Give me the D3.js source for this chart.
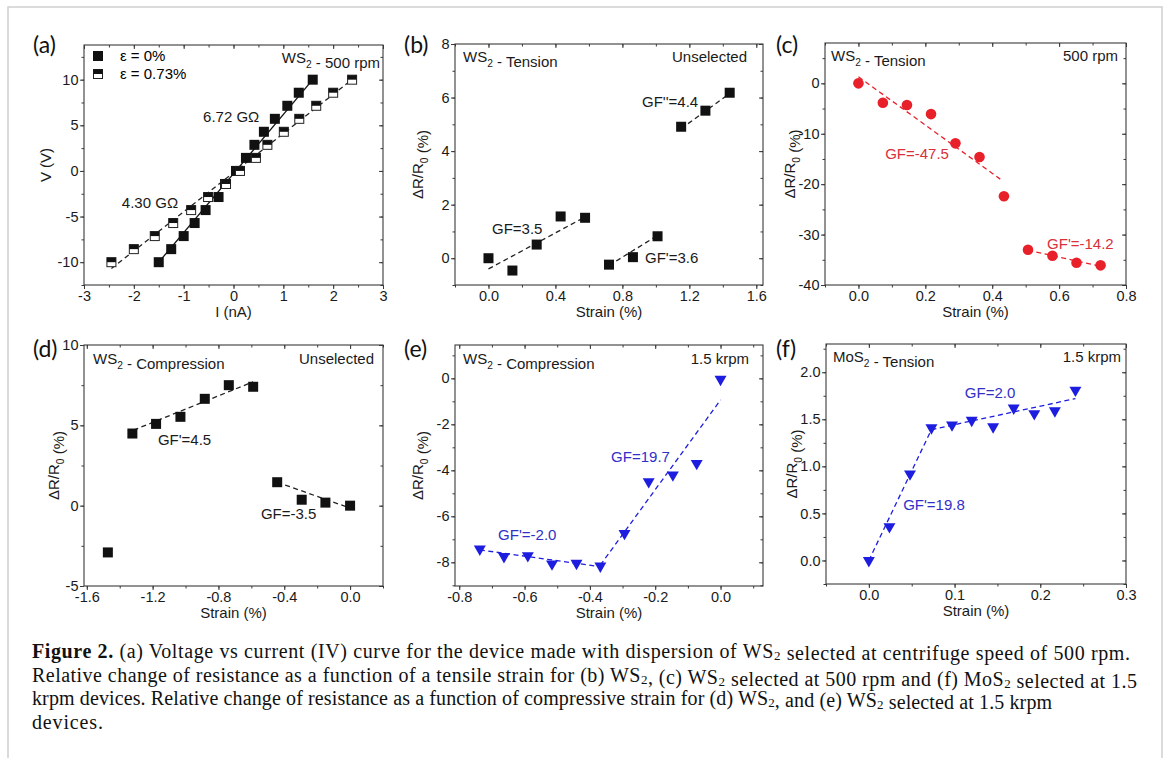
<!DOCTYPE html>
<html>
<head>
<meta charset="utf-8">
<script src="https://cdn.jsdelivr.net/npm/d3@7"></script>
<style>
  body { margin: 0; background: #fff; }
  svg { display: block; }
</style>
</head>
<body>
<script>
//Data///////////////////////////////////////////////////////////////////////////////////////////

// (a) IV curves: [I (nA), V (V)]
const ivZero = [[-1.5,-10],[-1.25,-8.57],[-1.0,-7.14],[-0.78,-5.71],[-0.56,-4.29],[-0.3,-2.86],[-0.17,-1.43],
  [0.05,0],[0.25,1.43],[0.42,2.86],[0.61,4.29],[0.83,5.71],[1.08,7.14],[1.31,8.57],[1.59,10]];
const ivStrained = [[-2.45,-10],[-2.0,-8.57],[-1.58,-7.14],[-1.21,-5.71],[-0.85,-4.29],[-0.51,-2.86],[-0.15,-1.43],
  [0.13,0],[0.45,1.43],[0.68,2.86],[1.01,4.29],[1.32,5.71],[1.66,7.14],[2.0,8.57],[2.38,10]];
const ivZeroFit = [[-1.5,-10],[1.59,10]];
const ivStrainedFit = [[-2.45,-10.7],[2.4,10.1]];

// (b) WS2 tension, unselected: [strain %, dR/R0 %]
const bPoints = [[0,0],[0.143,-0.46],[0.288,0.51],[0.431,1.56],[0.577,1.51],[0.72,-0.24],[0.863,0.04],
  [1.01,0.82],[1.151,4.91],[1.296,5.51],[1.441,6.18]];
const bFits = [[[0,-0.4],[0.577,1.54]], [[0.72,-0.27],[1.01,0.85]], [[1.151,4.84],[1.441,6.15]]];

// (c) WS2 tension, 500 rpm
const cPoints = [[0,0],[0.073,-3.85],[0.145,-4.3],[0.217,-6.1],[0.29,-11.9],[0.362,-14.6],[0.435,-22.4],
  [0.507,-33.0],[0.58,-34.2],[0.652,-35.6],[0.724,-36.1]];
const cFits = [[[0,1.3],[0.424,-19.0]], [[0.507,-33.1],[0.724,-36.3]]];

// (d) WS2 compression, unselected
const dPoints = [[-1.472,-2.91],[-1.323,4.49],[-1.179,5.09],[-1.031,5.53],[-0.883,6.65],[-0.737,7.5],
  [-0.589,7.4],[-0.443,1.46],[-0.294,0.37],[-0.15,0.19],[0,0]];
const dFits = [[[-1.316,4.7],[-0.589,7.71]], [[-0.443,1.46],[0,-0.15]]];

// (e) WS2 compression, 1.5 krpm
const ePoints = [[-0.737,-7.42],[-0.663,-7.75],[-0.59,-7.71],[-0.516,-8.07],[-0.441,-8.04],[-0.368,-8.16],
  [-0.294,-6.74],[-0.22,-4.49],[-0.146,-4.2],[-0.073,-3.7],[0,-0.04]];
const eFits = [[[-0.737,-7.46],[-0.368,-8.19]], [[-0.368,-8.12],[0,-0.94]]];

// (f) MoS2 tension, 1.5 krpm
const fPoints = [[0,0],[0.024,0.36],[0.048,0.92],[0.073,1.41],[0.097,1.44],[0.12,1.49],[0.145,1.42],
  [0.169,1.62],[0.193,1.56],[0.217,1.59],[0.241,1.81]];
const fFits = [[[0,0],[0.073,1.39]], [[0.073,1.39],[0.241,1.72]]];

// tick values
const aXTicks = [-3,-2,-1,0,1,2,3], aYTicks = [-10,-5,0,5,10];
const bXTicks = [0,0.4,0.8,1.2,1.6], bYTicks = [0,2,4,6,8];
const cXTicks = [0,0.2,0.4,0.6,0.8], cYTicks = [-40,-30,-20,-10,0];
const dXTicks = [-1.6,-1.2,-0.8,-0.4,0], dYTicks = [-5,0,5,10];
const eXTicks = [-0.8,-0.6,-0.4,-0.2,0], eYTicks = [-8,-6,-4,-2,0];
const fXTicks = [0,0.1,0.2,0.3], fYTicks = [0,0.5,1,1.5,2];

// caption lines: [text, style] where style is "b" bold, "s" subscript, "" normal
const captionLines = [
  [["Figure 2.","b"],[" (a) Voltage vs current (IV) curve for the device made with dispersion of WS",""],["2","s"],[" selected at centrifuge speed of 500 rpm.",""]],
  [["Relative change of resistance as a function of a tensile strain for (b) WS",""],["2","s"],[", (c) WS",""],["2","s"],[" selected at 500 rpm and (f) MoS",""],["2","s"],[" selected at 1.5",""]],
  [["krpm devices. Relative change of resistance as a function of compressive strain for (d) WS",""],["2","s"],[", and (e) WS",""],["2","s"],[" selected at 1.5 krpm",""]],
  [["devices.",""]]
];
const captionEnds = [1130, 1137, 1052, 103];

//Setup//////////////////////////////////////////////////////////////////////////////////////////

const W = 1167, H = 758;
const sans = "'Liberation Sans', Arial, sans-serif";
const axisColor = "#3a3a3a";
const red = "#e8202a", redText = "#d9303a";
const blue = "#1d1de0", blueText = "#3030c8";
const tickFont = 14.5, titleFont = 15;

const svg = d3.select("body").append("svg")
    .attr("width", W)
    .attr("height", H)
    .style("background", "#fff");

// light frame round the figure
svg.append("rect")
    .attr("x", 8).attr("y", 7)
    .attr("width", 1154).attr("height", H + 10)
    .attr("fill", "none")
    .attr("stroke", "#cfcfcf")
    .attr("stroke-width", 1.5);

function fmt(digits) {
  return function(d) { return d3.format("." + digits + "f")(d).replace("\u2212", "-"); };
}

function minorTicks(domain, step) {
  var out = [];
  var start = Math.ceil(domain[0] / step - 1e-6);
  for (var k = start; k * step <= domain[1] + 1e-9; k++) out.push(+(k * step).toFixed(6));
  return out;
}

// text with a subscript piece, e.g. WS2 or dR/R0
function subText(sel, parts, size) {
  parts.forEach(function(p) {
    if (p[1] === "s") {
      sel.append("tspan").attr("dy", size * 0.3).attr("font-size", size * 0.68).text(p[0]);
      sel.append("tspan").attr("dy", -size * 0.3).text("");
    } else {
      sel.append("tspan").text(p[0]);
    }
  });
  return sel;
}

function addAxis(g, axisFn, scale, values, size, transform, format) {
  var axis = axisFn(scale).tickValues(values).tickSize(size).tickSizeOuter(0).tickPadding(1.5);
  axis.tickFormat(format || "");
  var ax = g.append("g").attr("transform", transform).call(axis);
  ax.attr("font-family", sans).attr("font-size", tickFont);
  ax.select(".domain").remove();
  ax.selectAll("line").attr("stroke", axisColor).attr("stroke-width", 1);
  ax.selectAll("text").attr("fill", "#1a1a1a");
  return ax;
}

function drawPanel(p) {
  var b = p.box; // [left, right, top, bottom]
  var x = d3.scaleLinear().domain(p.xDomain).range([b[0], b[1]]);
  var y = d3.scaleLinear().domain(p.yDomain).range([b[3], b[2]]);
  var g = svg.append("g");

  var xMinor = minorTicks(p.xDomain, p.xMinor), yMinor = minorTicks(p.yDomain, p.yMinor);

  // bottom and left: outward ticks with labels
  addAxis(g, d3.axisBottom, x, xMinor, 2.5, "translate(0," + b[3] + ")");
  addAxis(g, d3.axisLeft, y, yMinor, 2.5, "translate(" + b[0] + ",0)");
  addAxis(g, d3.axisBottom, x, p.xTicks, 4, "translate(0," + b[3] + ")", p.xFmt);
  addAxis(g, d3.axisLeft, y, p.yTicks, 4, "translate(" + b[0] + ",0)", p.yFmt);
  // top and right: inward mirror ticks
  addAxis(g, d3.axisTop, x, xMinor, -2.5, "translate(0," + b[2] + ")");
  addAxis(g, d3.axisRight, y, yMinor, -2.5, "translate(" + b[1] + ",0)");
  addAxis(g, d3.axisTop, x, p.xTicks, -4, "translate(0," + b[2] + ")");
  addAxis(g, d3.axisRight, y, p.yTicks, -4, "translate(" + b[1] + ",0)");

  g.append("rect")
      .attr("x", b[0]).attr("y", b[2])
      .attr("width", b[1] - b[0]).attr("height", b[3] - b[2])
      .attr("fill", "none")
      .attr("stroke", axisColor)
      .attr("stroke-width", 1.1);

  // axis titles
  g.append("text")
      .attr("x", (b[0] + b[1]) / 2).attr("y", b[3] + 32)
      .attr("text-anchor", "middle")
      .attr("font-family", sans).attr("font-size", titleFont).attr("fill", "#1a1a1a")
      .text(p.xTitle);
  var yt = g.append("text")
      .attr("transform", "translate(" + p.yTitleX + "," + (b[2] + b[3]) / 2 + ") rotate(-90)")
      .attr("text-anchor", "middle")
      .attr("font-family", sans).attr("font-size", titleFont).attr("fill", "#1a1a1a");
  subText(yt, p.yTitle, titleFont);

  // panel letter
  g.append("text")
      .attr("x", p.letterPos[0]).attr("y", p.letterPos[1])
      .attr("font-family", "Lato, 'Open Sans', sans-serif").attr("font-size", 23).attr("fill", "#111")
      .text(p.letter);

  // corner notes
  if (p.noteLeftText) {
    var tl = g.append("text")
        .attr("x", b[0] + p.noteLeft[0]).attr("y", b[2] + p.noteLeft[1])
        .attr("font-family", sans).attr("font-size", 15).attr("fill", "#1a1a1a");
    subText(tl, p.noteLeftText, 15);
  }
  var tr = g.append("text")
      .attr("x", b[1] - p.noteRight[0]).attr("y", b[2] + p.noteRight[1])
      .attr("text-anchor", "end")
      .attr("font-family", sans).attr("font-size", 15).attr("fill", "#1a1a1a");
  subText(tr, p.noteRightText, 15);

  var line = d3.line().x(function(d) { return x(d[0]); }).y(function(d) { return y(d[1]); });

  // fit lines
  p.fits.forEach(function(f) {
    g.append("path")
        .attr("d", line(f.data))
        .attr("fill", "none")
        .attr("stroke", f.color)
        .attr("stroke-width", 1.3)
        .attr("stroke-dasharray", f.dash ? "5,3.5" : null);
  });

  // markers
  p.series.forEach(function(s) {
    var m = g.append("g").selectAll("g").data(s.data).enter().append("g")
        .attr("transform", function(d) { return "translate(" + x(d[0]) + "," + y(d[1]) + ")"; });
    if (s.shape === "square") {
      m.append("rect").attr("x", -5).attr("y", -5).attr("width", 10).attr("height", 10).attr("fill", s.color);
    } else if (s.shape === "half") {
      m.append("rect").attr("x", -4.5).attr("y", -4.5).attr("width", 9).attr("height", 9)
          .attr("fill", "#fff").attr("stroke", "#222").attr("stroke-width", 1);
      m.append("rect").attr("x", -4.5).attr("y", -4.5).attr("width", 9).attr("height", 4.5).attr("fill", "#111");
    } else if (s.shape === "circle") {
      m.append("circle").attr("r", 5.3).attr("fill", s.color);
    } else if (s.shape === "tri") {
      m.append("path").attr("d", d3.symbol().type(d3.symbolTriangle).size(62)()).attr("transform", "rotate(180)")
          .attr("fill", s.color);
    }
  });

  // annotations, placed in data coordinates
  p.labels.forEach(function(l) {
    g.append("text")
        .attr("x", x(l.at[0])).attr("y", y(l.at[1]))
        .attr("font-family", sans).attr("font-size", 15).attr("fill", l.color)
        .text(l.text);
  });

  return { g: g, x: x, y: y };
}

var dRR = [["\u0394R/R",""],["0","s"],[" (%)",""]];

//Panels/////////////////////////////////////////////////////////////////////////////////////////

var pa = drawPanel({
  letter: "(a)", letterPos: [33, 53],
  box: [84, 383, 45, 285], xDomain: [-3, 3], yDomain: [-12.5, 13.8],
  xTicks: aXTicks, yTicks: aYTicks, xMinor: 0.5, yMinor: 2.5, xFmt: fmt(0), yFmt: fmt(0),
  xTitle: "I (nA)", yTitle: [["V (V)",""]], yTitleX: 51,
  noteLeftText: null, noteRight: [3, 18], noteRightText: [["WS",""],["2","s"],[" - 500 rpm",""]],
  fits: [{data: ivStrainedFit, color: "#222", dash: true}, {data: ivZeroFit, color: "#111", dash: false}],
  series: [{data: ivZero, shape: "square", color: "#111"}, {data: ivStrained, shape: "half", color: "#111"}],
  labels: [{text: "6.72 G\u03A9", at: [-0.61, 5.36], color: "#1a1a1a"}, {text: "4.30 G\u03A9", at: [-2.24, -4.06], color: "#1a1a1a"}]
});
// legend
pa.g.append("rect").attr("x", 93).attr("y", 51).attr("width", 10).attr("height", 10).attr("fill", "#111");
pa.g.append("rect").attr("x", 93.5).attr("y", 69.5).attr("width", 9).attr("height", 9).attr("fill", "#fff").attr("stroke", "#222");
pa.g.append("rect").attr("x", 93.5).attr("y", 69.5).attr("width", 9).attr("height", 4.5).attr("fill", "#111");
pa.g.append("text").attr("x", 120).attr("y", 61).attr("font-family", sans).attr("font-size", 15).text("\u03B5 = 0%");
pa.g.append("text").attr("x", 120).attr("y", 79).attr("font-family", sans).attr("font-size", 15).text("\u03B5 = 0.73%");

drawPanel({
  letter: "(b)", letterPos: [404, 53],
  box: [455, 763, 44, 285], xDomain: [-0.2, 1.64], yDomain: [-1, 8],
  xTicks: bXTicks, yTicks: bYTicks, xMinor: 0.2, yMinor: 1, xFmt: fmt(1), yFmt: fmt(0),
  xTitle: "Strain (%)", yTitle: dRR, yTitleX: 423,
  noteLeft: [8, 18], noteLeftText: [["WS",""],["2","s"],[" - Tension",""]], noteRight: [16, 18], noteRightText: [["Unselected",""]],
  fits: bFits.map(function(f) { return {data: f, color: "#222", dash: true}; }),
  series: [{data: bPoints, shape: "square", color: "#111"}],
  labels: [{text: "GF=3.5", at: [0.021, 0.9], color: "#1a1a1a"}, {text: "GF'=3.6", at: [0.935, -0.18], color: "#1a1a1a"},
           {text: "GF''=4.4", at: [0.917, 5.65], color: "#1a1a1a"}]
});

drawPanel({
  letter: "(c)", letterPos: [776, 53],
  box: [825, 1126, 43, 285], xDomain: [-0.1, 0.8], yDomain: [-40, 8],
  xTicks: cXTicks, yTicks: cYTicks, xMinor: 0.1, yMinor: 5, xFmt: fmt(1), yFmt: fmt(0),
  xTitle: "Strain (%)", yTitle: dRR, yTitleX: 795,
  noteLeft: [6, 18], noteLeftText: [["WS",""],["2","s"],[" - Tension",""]], noteRight: [8, 18], noteRightText: [["500 rpm",""]],
  fits: cFits.map(function(f) { return {data: f, color: red, dash: true}; }),
  series: [{data: cPoints, shape: "circle", color: red}],
  labels: [{text: "GF=-47.5", at: [0.08, -15.0], color: redText}, {text: "GF'=-14.2", at: [0.564, -32.85], color: redText}]
});

drawPanel({
  letter: "(d)", letterPos: [33, 357],
  box: [84, 383, 345, 586], xDomain: [-1.617, 0.2], yDomain: [-5, 10],
  xTicks: dXTicks, yTicks: dYTicks, xMinor: 0.2, yMinor: 2.5, xFmt: fmt(1), yFmt: fmt(0),
  xTitle: "Strain (%)", yTitle: dRR, yTitleX: 59,
  noteLeft: [9, 19], noteLeftText: [["WS",""],["2","s"],[" - Compression",""]], noteRight: [9, 19], noteRightText: [["Unselected",""]],
  fits: dFits.map(function(f) { return {data: f, color: "#222", dash: true}; }),
  series: [{data: dPoints, shape: "square", color: "#111"}],
  labels: [{text: "GF'=4.5", at: [-1.168, 3.78], color: "#1a1a1a"}, {text: "GF=-3.5", at: [-0.542, -0.83], color: "#1a1a1a"}]
});

drawPanel({
  letter: "(e)", letterPos: [404, 357],
  box: [455, 763, 345, 586], xDomain: [-0.813, 0.13], yDomain: [-9.03, 1.45],
  xTicks: eXTicks, yTicks: eYTicks, xMinor: 0.1, yMinor: 1, xFmt: fmt(1), yFmt: fmt(0),
  xTitle: "Strain (%)", yTitle: dRR, yTitleX: 423,
  noteLeft: [8, 19], noteLeftText: [["WS",""],["2","s"],[" - Compression",""]], noteRight: [14, 19], noteRightText: [["1.5 krpm",""]],
  fits: eFits.map(function(f) { return {data: f, color: blue, dash: true}; }),
  series: [{data: ePoints, shape: "tri", color: blue}],
  labels: [{text: "GF'=-2.0", at: [-0.681, -7.01], color: blueText}, {text: "GF=19.7", at: [-0.335, -3.64], color: blueText}]
});

drawPanel({
  letter: "(f)", letterPos: [776, 357],
  box: [826, 1126, 344, 584], xDomain: [-0.05, 0.3], yDomain: [-0.25, 2.3],
  xTicks: fXTicks, yTicks: fYTicks, xMinor: 0.05, yMinor: 0.25, xFmt: fmt(1), yFmt: fmt(1),
  xTitle: "Strain (%)", yTitle: dRR, yTitleX: 797,
  noteLeft: [7, 18], noteLeftText: [["MoS",""],["2","s"],[" - Tension",""]], noteRight: [5, 18], noteRightText: [["1.5 krpm",""]],
  fits: fFits.map(function(f) { return {data: f, color: blue, dash: true}; }),
  series: [{data: fPoints, shape: "tri", color: blue}],
  labels: [{text: "GF=2.0", at: [0.112, 1.727], color: blueText}, {text: "GF'=19.8", at: [0.04, 0.537], color: blueText}]
});

//Caption////////////////////////////////////////////////////////////////////////////////////////

var serif = "'Liberation Serif', 'DejaVu Serif', serif";
captionLines.forEach(function(parts, i) {
  var t = svg.append("text")
      .attr("x", 32).attr("y", 658 + i * 23.5)
      .attr("font-family", serif).attr("font-size", 20).attr("fill", "#111");
  var chars = 0;
  parts.forEach(function(p) {
    chars += p[0].length;
    if (p[1] === "s") {
      t.append("tspan").attr("dy", 2).attr("font-size", 13).text(p[0]);
      t.append("tspan").attr("dy", -2).text("");
    } else {
      t.append("tspan").attr("font-weight", p[1] === "b" ? "bold" : null).text(p[0]);
    }
  });
  // stretch letter spacing so each line ends where the printed line ends
  var w = t.node().getComputedTextLength();
  var ls = (captionEnds[i] - 32 - w) / Math.max(chars - 1, 1);
  t.attr("letter-spacing", ls.toFixed(3));
});
</script>
</body>
</html>
